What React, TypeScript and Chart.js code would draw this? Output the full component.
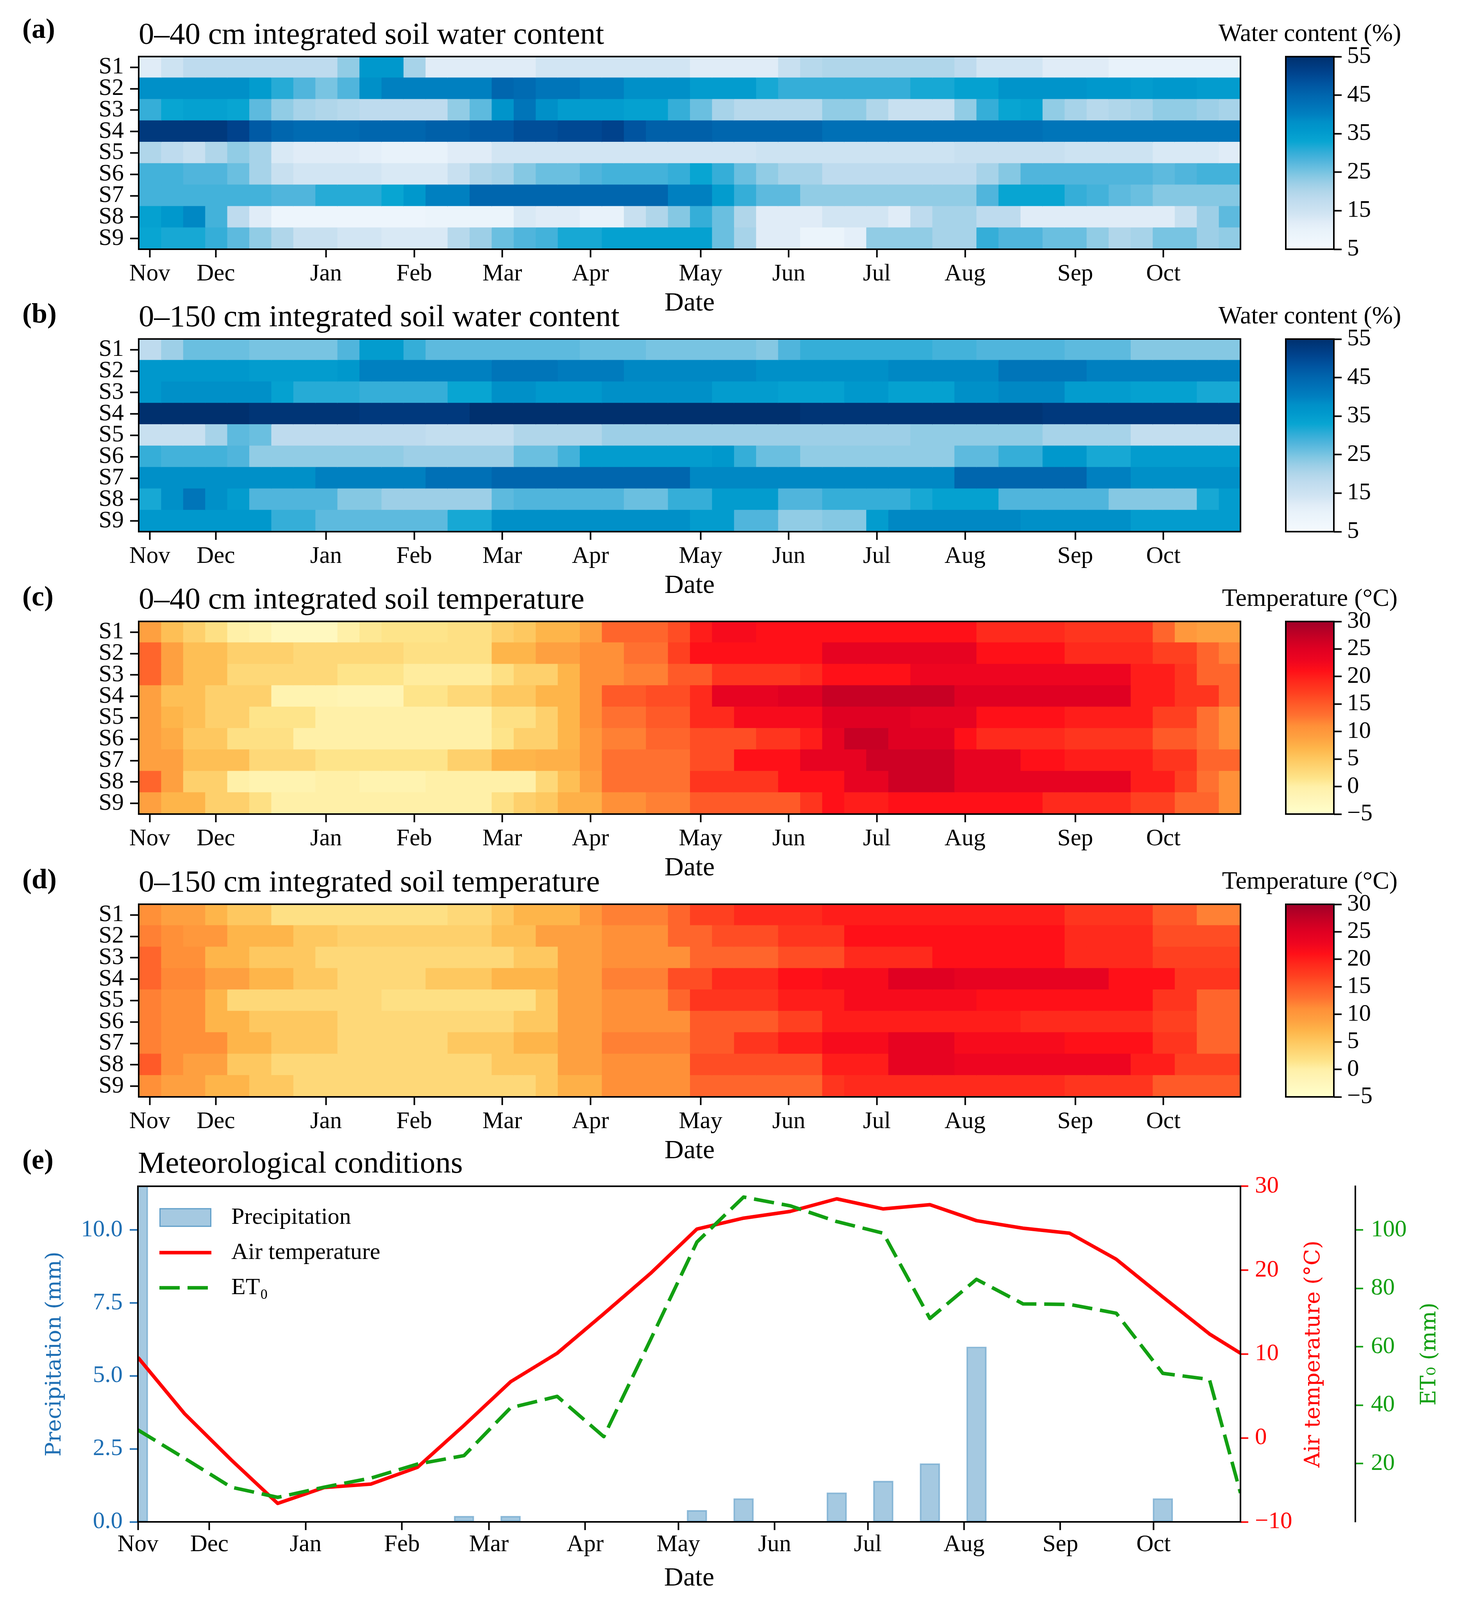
import { useEffect, useRef } from "react";
import { Chart, registerables } from "chart.js";

Chart.register(...registerables);

const SERIF = '"Liberation Serif", "Times New Roman", serif';
const LABEL_SERIF = '"DejaVu Serif", serif';
Chart.defaults.font.family = SERIF;
Chart.defaults.color = "#000";

// ---- categories / ticks ----
const sites = ["S1", "S2", "S3", "S4", "S5", "S6", "S7", "S8", "S9"];
const months = ["Nov", "Dec", "Jan", "Feb", "Mar", "Apr", "May", "Jun", "Jul", "Aug", "Sep", "Oct"];
const weekTicks = [0, 3, 8, 12, 16, 20, 25, 29, 33, 37, 42, 46]; // weekly columns
const dayTicks = [0, 23, 54, 85, 113, 144, 174, 205, 235, 266, 297, 327]; // days since 8 Nov
const waterTicks = [5, 15, 25, 35, 45, 55];
const tempTicks = [-5, 0, 5, 10, 15, 20, 25, 30];
const precipTicks = [0, 2.5, 5, 7.5, 10];
const airTicks = [-10, 0, 10, 20, 30];
const et0Ticks = [20, 40, 60, 80, 100];

// ---- (a) 0-40 cm soil water content (%), rows S1..S9, 50 weekly columns ----
const swc40 = [
  [12,15,18,18,18,18,18,18,18,23,36,36,21,12,12,12,12,12,14,14,14,14,14,14,14,12,12,12,12,16,19,20,20,20,20,20,20,18,14,14,14,12,12,12,10,10,10,10,10,10],
  [38,38,38,38,38,35,31,28,25,28,38,40,40,40,40,40,45,44,42,42,40,40,38,38,38,35,35,35,32,30,30,30,30,30,30,32,32,34,34,37,37,37,37,36,36,35,36,36,35,35],
  [30,33,34,34,33,27,23,21,20,19,18,18,18,18,23,27,37,42,38,35,35,35,34,34,30,26,21,19,19,19,19,23,23,20,16,16,16,23,30,33,34,23,21,19,20,21,23,23,22,21],
  [53,53,53,53,51,47,45,44,44,44,45,45,45,46,46,47,47,49,49,50,50,51,48,46,46,46,45,45,45,45,45,43,43,43,43,43,43,43,43,43,43,42,42,42,42,42,42,42,42,42],
  [20,18,16,20,23,21,13,12,12,12,11,10,10,10,12,12,14,14,14,14,14,14,14,14,14,14,14,14,15,15,15,15,15,15,15,15,15,16,16,16,16,16,15,15,15,15,13,13,13,12],
  [29,29,28,28,26,21,16,14,14,14,14,13,13,13,16,20,21,24,26,26,28,29,29,29,30,33,30,26,23,21,21,18,18,18,18,18,18,18,21,24,28,28,28,28,28,28,27,28,29,29],
  [29,29,29,29,29,29,28,28,31,31,31,33,36,40,40,45,45,45,45,45,45,45,45,45,40,40,35,30,27,27,23,23,23,23,23,23,23,23,28,33,33,33,30,29,27,26,24,24,24,24],
  [34,36,39,29,18,12,8,8,8,8,8,8,8,9,9,9,9,13,12,12,10,10,16,20,24,30,26,20,12,12,12,14,14,14,12,18,21,21,18,18,12,12,12,12,12,12,12,16,22,27],
  [33,32,32,30,27,23,20,16,16,14,14,13,13,13,19,22,26,28,29,32,32,34,34,34,34,34,26,21,12,12,9,9,11,23,23,23,21,21,30,28,28,26,26,23,20,21,25,25,22,23],
];

// ---- (b) 0-150 cm soil water content (%) ----
const swc150 = [
  [18,22,26,26,26,25,25,25,25,28,35,35,30,27,27,27,27,27,27,27,26,26,26,25,25,25,25,25,24,28,30,30,30,30,30,30,29,29,28,28,28,28,27,27,27,24,24,24,24,24],
  [36,36,36,36,36,35,35,35,35,36,40,40,40,40,40,40,42,42,42,41,41,41,39,39,39,39,39,39,38,38,38,38,38,38,39,39,39,39,39,42,42,42,42,40,40,40,40,40,40,40],
  [36,38,38,38,38,38,34,31,31,31,30,30,30,30,33,33,38,38,36,36,36,38,38,38,38,38,35,35,35,34,34,34,36,36,34,34,34,38,38,39,39,39,35,35,35,34,34,34,32,32],
  [55,55,55,55,55,54,54,54,54,54,53,53,53,53,53,55,55,55,55,55,55,55,55,55,55,55,55,55,55,55,54,54,54,54,54,54,54,54,54,54,54,53,53,53,53,53,53,53,53,53],
  [16,16,16,21,27,26,18,18,18,18,18,18,18,17,17,17,17,20,20,20,20,22,22,22,22,22,22,22,22,22,22,22,22,22,22,23,23,23,23,23,23,21,21,21,21,17,17,17,17,17],
  [30,29,29,29,28,23,23,23,23,23,23,23,22,22,22,22,22,26,26,29,35,35,35,35,35,35,36,30,26,26,23,23,23,23,23,23,23,27,27,30,30,36,36,32,32,35,35,35,35,35],
  [38,38,38,38,38,38,38,38,40,40,40,40,40,43,43,43,45,45,45,45,45,45,45,45,45,39,39,39,39,39,39,39,39,39,39,39,39,45,45,45,45,45,45,40,40,38,38,38,38,38],
  [32,38,42,38,35,28,28,28,28,24,24,22,22,22,22,22,27,28,28,28,28,28,26,26,30,30,35,35,35,28,28,30,30,30,30,32,34,34,34,28,28,28,28,28,24,24,24,24,32,35],
  [36,36,36,36,36,36,30,30,27,27,27,27,27,27,32,32,38,38,38,38,38,38,38,38,38,35,35,28,28,23,23,24,24,35,39,39,39,39,39,39,38,38,38,38,38,35,35,35,35,35],
];

// ---- (c) 0-40 cm soil temperature (degC) ----
const temp40 = [
  [9,6,4,2,0,-1,-3,-3,-3,0,1,1.5,1.5,1.5,2,2,4,5,7,7,9,14,14,14,16,20,22,22,21,21,21,21,21,21,21,21,21,21,19,19,19,19,18,18,18,18,14,10,9,9],
  [14,9,6,6,4,4,4,3,3,3,3,3,2,2,2,2,7,7,9,9,11,11,13,13,17,21,21,21,21,21,21,24,24,24,24,24,24,24,21,21,21,21,19,19,19,19,17,17,14,12],
  [14,9,6,6,3,3,3,3,3,1.5,1.5,1.5,0.5,0.5,0.5,0.5,2,4,4,7,11,11,12,12,15,15,18,18,18,18,19,21,21,21,21,23,23,23,23,23,23,23,23,23,23,20,20,18,14,14],
  [9,6,6,4,4,4,-1,-1,-1,-1.5,-1.5,-1.5,1.5,1.5,3,3,5,5,7,7,11,15,15,16,16,19,24,24,24,25,25,27,27,27,27,27,27,25,25,25,25,25,25,25,25,20,20,18,18,14],
  [9,7,6,4,4,1.5,1.5,1.5,0,0,0,0,0,0,0,0,2,2,4,7,11,13,13,15,15,19,19,22,22,22,22,25,25,25,25,24,24,24,21,21,21,21,20,20,20,20,17,17,13,11],
  [9,8,5,5,2,2,2,0,0,0,0,0,0,0,0,0,1.5,4,4,7,10,12,12,14,14,16,16,16,18,18,20,24,27,27,25,25,25,21,19,19,19,19,18,18,18,18,15,15,13,11],
  [9,9,6,6,6,3,3,3,1.5,1.5,1.5,1.5,1.5,1.5,4,4,7,7,7.5,7.5,10,13,13,13,13,16,16,21,21,21,24,24,24,26.5,26.5,26.5,26.5,24,24,24,21,21,20,20,20,20,18,18,14,14],
  [14,9,4,4,0,-1,-1,-1,0,0,-1,-1,-1,0,0,0,0,0,3,6,9,13,13,13,13,18,18,18,18,21,21,21,24,24,26.5,26.5,26.5,24,24,24,24,24,24,24,24,20,20,17,13,11],
  [9,7,7,4,4,2,0,0,0,0,0,0,0,0,0,0,2,4,5,7.5,7.5,11,11,12,12,15,15,15,15,15,18,21,20,20,21,21,21,21,21,21,21,19,19,19,19,17,17,14,14,11],
];

// ---- (d) 0-150 cm soil temperature (degC) ----
const temp150 = [
  [11,9,9,7,5,5,2,2,2,2,2,2,2,2,3,3,5,7,7,7,10,12,12,12,14,17,17,19,19,19,19,20,20,20,20,20,20,20,20,20,20,20,18,18,18,18,15,15,12,12],
  [12,11,10,10,7,7,7,5,5,4,4,4,4,4,4,4,6,6,9,9,9,11,11,11,14,14,16,16,16,18,18,18,21,21,21,21,21,21,21,21,21,21,19,19,19,19,16,16,16,16],
  [14,11,11,7,7,5,5,5,3,3,3,3,3,3,3,3,3,5,5,9,9,11,11,11,11,14,14,14,14,16,16,16,19,19,19,19,21,21,21,21,21,21,19,19,19,19,17,17,17,17],
  [14,11.5,11.5,9,9,7,7,5,5,3,3,3,3,5,5,5,7,7,7,9,9,12,12,12,16,16,19,19,19,21,21,22,22,22,25,25,25,24,24,24,24,24,24,24,21,21,21,18,18,18],
  [12,11,11,7,3,3,3,3,3,3,3,2,2,2,2,2,2,2,5,9,9,11,11,11,14,18,18,18,18,20,20,20,22,22,22,22,22,22,21,21,21,21,21,21,21,21,18,18,14,14],
  [12,11,11,7,7,5,5,5,5,3,3,3,3,3,3,3,3,5,5,9,9,11,11,11,11,15,15,15,15,17,17,20,20,20,20,20,20,20,20,20,19,19,19,19,19,19,17,17,14,14],
  [12,11,11,11,7,7,5,5,5,3,3,3,3,3,5,5,5,7,7,9,9,12,12,12,12,15,15,18,18,20,20,22,22,22,24,24,24,22,22,22,22,22,21,21,21,21,18,18,14,14],
  [15,11,9,9,5,5,3,3,3,3,3,3,3,3,3,3,5,5,5,9,9,11,11,11,11,16,16,16,16,16,16,20,20,20,24,24,24,23,23,23,23,23,23,23,23,20,20,17,17,17],
  [11,9,9,7,7,5,5,3,3,3,3,3,3,3,3,3,3,3,5,7.5,7.5,11,11,11,11,14,14,14,14,14,14,18,19,19,19,19,19,19,19,19,19,19,18,18,18,18,15,15,15,15],
];

// ---- (e) meteorological conditions, 15-day periods ----
const periodDay = [0,15,30,45,60,75,90,105,120,135,150,165,180,195,210,225,240,255,270,285,300,315,330,345,355];
const precipitation = [12.5,0,0,0,0,0,0,0.2,0.2,0,0,0,0.4,0.8,0,1.0,1.4,2.0,6.0,0,0,0,0.8,0,0];
const airTemperature = [9.6,2.9,-2.6,-7.8,-5.9,-5.5,-3.5,1.5,6.7,10.1,14.8,19.6,24.9,26.2,27.0,28.5,27.3,27.8,25.9,25.0,24.4,21.3,16.8,12.4,10.1];
const et0 = [31.5,21.8,11.9,8.4,11.9,15.0,19.8,22.7,39.1,43.0,29.2,62.3,95.9,111.3,108.3,102.9,98.9,69.7,83.1,74.7,74.5,71.5,50.9,48.8,9.9];

// ---- colour maps ----
type Stop = [number, string];
const waterStops: Stop[] = [
  [5, "#f5fafe"], [10, "#e8f2fa"], [12, "#e0ecf7"], [14, "#d2e5f3"], [16, "#c8e0f0"], [18, "#bedbee"],
  [20, "#b0d6ea"], [22, "#9dcfe7"], [24, "#85c8e3"], [26, "#6abfe0"], [28, "#50b5dc"], [30, "#35aed8"],
  [33, "#08a5d2"], [36, "#0098cc"], [38, "#0090c8"], [40, "#0080c0"], [43, "#0070b6"], [45, "#0066ae"],
  [48, "#0054a0"], [51, "#00428c"], [55, "#00306e"],
];
const tempStops: Stop[] = [
  [-5, "#ffffcc"], [-2, "#fff5b8"], [0, "#fff0a8"], [1.5, "#fee48a"], [3, "#fed878"], [5, "#fec860"],
  [7, "#feb54a"], [9, "#fea040"], [11, "#ff9038"], [13, "#ff7030"], [15, "#ff5a28"], [17, "#ff4020"],
  [19, "#ff2a1c"], [21, "#ff1018"], [23, "#ee0520"], [25, "#e00022"], [27, "#c80024"], [30, "#a00028"],
];

const BLUE = "#1f6fb4";
const GREEN = "#12a012";

function rgb(hex: string) {
  const n = parseInt(hex.slice(1), 16);
  return [(n >> 16) & 255, (n >> 8) & 255, n & 255];
}

function colorAt(stops: Stop[], v: number) {
  if (v <= stops[0][0]) return stops[0][1];
  for (let i = 1; i < stops.length; i++) {
    if (v <= stops[i][0]) {
      const t = (v - stops[i - 1][0]) / (stops[i][0] - stops[i - 1][0]);
      const a = rgb(stops[i - 1][1]);
      const b = rgb(stops[i][1]);
      return `rgb(${a.map((x, k) => Math.round(x + (b[k] - x) * t)).join(",")})`;
    }
  }
  return stops[stops.length - 1][1];
}

const minus = (v: number) => (v < 0 ? "\u2212" + Math.abs(v) : String(v));

// black box round the plot area
const framePlugin = {
  id: "frame",
  afterDatasetsDraw(chart: any) {
    const { ctx, chartArea: a } = chart;
    ctx.save();
    ctx.strokeStyle = "#000";
    ctx.lineWidth = 4;
    ctx.strokeRect(a.left, a.top, a.right - a.left, a.bottom - a.top);
    ctx.restore();
  },
};

// colour bar body, painted from the colour map along the y scale
const gradientPlugin = {
  id: "cbGradient",
  beforeDatasetsDraw(chart: any, _args: any, opts: any) {
    const { ctx, chartArea: a, scales } = chart;
    const y = scales.y;
    const stops: Stop[] = opts.stops;
    const g = ctx.createLinearGradient(0, y.getPixelForValue(y.min), 0, y.getPixelForValue(y.max));
    stops.forEach(([v, c]) => g.addColorStop((v - y.min) / (y.max - y.min), c));
    ctx.save();
    ctx.fillStyle = g;
    ctx.fillRect(a.left, a.top, a.right - a.left, a.bottom - a.top);
    ctx.restore();
  },
};

// colour bar caption, centred over the bar (wider than the bar itself)
const cbLabelPlugin = {
  id: "cbLabel",
  afterDraw(chart: any, _args: any, opts: any) {
    const { ctx, chartArea: a } = chart;
    ctx.save();
    ctx.font = `64px ${SERIF}`;
    ctx.fillStyle = "#000";
    ctx.textAlign = "center";
    ctx.textBaseline = "alphabetic";
    ctx.fillText(opts.text, (a.left + a.right) / 2, a.top - 40);
    ctx.restore();
  },
};

const tickFont = { size: 61, lineHeight: 1 };
const outTicks = (color: string, len: number) => ({
  drawOnChartArea: false,
  offset: false,
  tickLength: len,
  tickWidth: 4,
  tickColor: color,
});

function Heatmap({ rows, title, plotTop, stops }: { rows: number[][]; title: string; plotTop: number; stops: Stop[] }) {
  const ref = useRef<HTMLCanvasElement>(null);
  useEffect(() => {
    if (!ref.current) return;
    const chart = new Chart(ref.current, {
      type: "bar",
      data: {
        labels: sites,
        datasets: rows[0].map((_, c) => ({
          data: rows.map(() => [c - 0.5, c + 0.5]),
          backgroundColor: rows.map((r) => colorAt(stops, r[c])),
          borderWidth: 0,
          inflateAmount: 1,
          grouped: false,
          barPercentage: 1,
          categoryPercentage: 1,
        })),
      },
      options: {
        indexAxis: "y",
        animation: false,
        responsive: false,
        devicePixelRatio: 1,
        events: [],
        layout: { padding: { left: 0, right: 25, top: 0, bottom: 0 } },
        plugins: {
          legend: { display: false },
          tooltip: { enabled: false },
          title: {
            display: true,
            text: title,
            align: "start",
            fullSize: false,
            color: "#000",
            font: { size: 79, weight: "normal", lineHeight: 1.2 },
            padding: { top: 44, bottom: 6 },
          },
        },
        scales: {
          x: {
            type: "linear",
            min: -0.5,
            max: 49.5,
            afterBuildTicks: (s: any) => { s.ticks = weekTicks.map((v) => ({ value: v })); },
            afterFit: (s: any) => { s.height = 182; },
            ticks: { callback: (_v: any, i: number) => months[i], font: { size: 61, lineHeight: 1.2 }, padding: 6, maxRotation: 0, autoSkip: false },
            grid: outTicks("#000", 21),
            border: { display: false },
            title: { display: true, text: "Date", color: "#000", font: { size: 68, lineHeight: 1 }, padding: { top: 0, bottom: 9 } },
          },
          y: {
            type: "category",
            offset: true,
            afterFit: (s: any) => { s.width = 355; },
            ticks: { font: tickFont, padding: 16, autoSkip: false },
            grid: outTicks("#000", 22),
            border: { display: false },
          },
        },
      } as any,
      plugins: [framePlugin],
    });
    return () => chart.destroy();
  }, []);
  return (
    <canvas
      ref={ref}
      width={3200}
      height={820}
      style={{ position: "absolute", left: 0, top: plotTop - 145, width: 3200, height: 820 }}
    />
  );
}

function ColorBar({ label, plotTop, stops, ticks }: { label: string; plotTop: number; stops: Stop[]; ticks: number[] }) {
  const ref = useRef<HTMLCanvasElement>(null);
  useEffect(() => {
    if (!ref.current) return;
    const chart = new Chart(ref.current, {
      type: "bar",
      data: { labels: [""], datasets: [] },
      options: {
        animation: false,
        responsive: false,
        devicePixelRatio: 1,
        events: [],
        layout: { padding: { left: 239, right: 98, top: 145, bottom: 182 } },
        plugins: {
          legend: { display: false },
          tooltip: { enabled: false },
          cbGradient: { stops },
          cbLabel: { text: label },
        },
        scales: {
          x: { display: false },
          y: {
            type: "linear",
            position: "right",
            min: ticks[0],
            max: ticks[ticks.length - 1],
            afterBuildTicks: (s: any) => { s.ticks = ticks.map((v) => ({ value: v })); },
            afterFit: (s: any) => { s.width = 140; },
            ticks: { font: tickFont, padding: 14, callback: (v: any) => minus(v) },
            grid: outTicks("#000", 20),
            border: { display: false },
          },
        },
      } as any,
      plugins: [gradientPlugin, framePlugin, cbLabelPlugin],
    });
    return () => chart.destroy();
  }, []);
  return (
    <canvas
      ref={ref}
      width={600}
      height={820}
      style={{ position: "absolute", left: 3052, top: plotTop - 145, width: 600, height: 820 }}
    />
  );
}

// legend drawn inside the plot, top left, from the dataset styles
const metLegendPlugin = {
  id: "metLegend",
  afterDraw(chart: any) {
    const { ctx, chartArea: a } = chart;
    const ds = chart.data.datasets;
    const x0 = a.left + 55;
    const x1 = a.left + 188;
    const tx = a.left + 239;
    const ys = [a.top + 80, a.top + 170, a.top + 260];
    ctx.save();
    ctx.fillStyle = ds[0].backgroundColor;
    ctx.fillRect(x0, ys[0] - 24, x1 - x0, 48);
    ctx.strokeStyle = ds[0].borderColor;
    ctx.lineWidth = 3;
    ctx.strokeRect(x0 + 1.5, ys[0] - 22.5, x1 - x0 - 3, 45);
    ctx.lineWidth = ds[1].borderWidth;
    ctx.strokeStyle = ds[1].borderColor;
    ctx.beginPath();
    ctx.moveTo(x0, ys[1]);
    ctx.lineTo(x1, ys[1]);
    ctx.stroke();
    ctx.strokeStyle = ds[2].borderColor;
    ctx.setLineDash(ds[2].borderDash);
    ctx.beginPath();
    ctx.moveTo(x0, ys[2]);
    ctx.lineTo(x1, ys[2]);
    ctx.stroke();
    ctx.setLineDash([]);
    ctx.fillStyle = "#000";
    ctx.font = `60px ${SERIF}`;
    ctx.textAlign = "left";
    ctx.textBaseline = "middle";
    ds.forEach((d: any, i: number) => ctx.fillText(d.label, tx, ys[i]));
    ctx.restore();
  },
};

// rotated (bottom-to-top) axis titles for all three y axes
const sideTitlesPlugin = {
  id: "sideTitles",
  afterDraw(chart: any, _args: any, opts: any) {
    const { ctx, chartArea: a } = chart;
    const cy = (a.top + a.bottom) / 2;
    ctx.save();
    ctx.font = `55px ${LABEL_SERIF}`;
    ctx.textAlign = "center";
    ctx.textBaseline = "middle";
    for (const t of opts.items) {
      const s = chart.scales[t.axis];
      ctx.save();
      ctx.translate(s.left + t.dx, cy);
      ctx.rotate(-Math.PI / 2);
      ctx.fillStyle = t.color;
      ctx.fillText(t.text, 0, 0);
      ctx.restore();
    }
    ctx.restore();
  },
};

function MetChart() {
  const ref = useRef<HTMLCanvasElement>(null);
  useEffect(() => {
    if (!ref.current) return;
    const chart = new Chart(ref.current, {
      type: "bar",
      data: {
        datasets: [
          {
            type: "bar",
            label: "Precipitation",
            data: periodDay.map((d, i) => ({ x: d, y: precipitation[i] })),
            yAxisID: "y",
            backgroundColor: "rgba(31,119,180,0.4)",
            borderColor: "rgba(31,119,180,0.5)",
            borderWidth: (c: any) => (c.raw && c.raw.y > 0 ? 3 : 0),
            borderSkipped: false,
            barThickness: 51,
            clip: 0,
            order: 3,
          },
          {
            type: "line",
            label: "Air temperature",
            data: periodDay.map((d, i) => ({ x: d, y: airTemperature[i] })),
            yAxisID: "y2",
            borderColor: "#ff0000",
            borderWidth: 9,
            borderJoinStyle: "round",
            pointRadius: 0,
            tension: 0,
            order: 2,
          },
          {
            type: "line",
            label: "ET\u2080",
            data: periodDay.map((d, i) => ({ x: d, y: et0[i] })),
            yAxisID: "y3",
            borderColor: GREEN,
            borderWidth: 9,
            borderDash: [52, 20],
            borderJoinStyle: "round",
            pointRadius: 0,
            tension: 0,
            order: 1,
          },
        ],
      } as any,
      options: {
        animation: false,
        responsive: false,
        devicePixelRatio: 1,
        events: [],
        layout: { padding: 0 },
        plugins: {
          legend: { display: false },
          tooltip: { enabled: false },
          title: {
            display: true,
            text: "Meteorological conditions",
            align: "start",
            fullSize: false,
            color: "#000",
            font: { size: 79, weight: "normal", lineHeight: 1.2 },
            padding: { top: 34, bottom: 8 },
          },
          sideTitles: {
            items: [
              { axis: "y", dx: 141, text: "Precipitation (mm)", color: BLUE },
              { axis: "y2", dx: 188, text: "Air temperature (\u00b0C)", color: "#ff0000" },
              { axis: "y3", dx: 191, text: "ET\u2080 (mm)", color: GREEN },
            ],
          },
        },
        scales: {
          x: {
            type: "linear",
            min: 0,
            max: 355,
            offset: false,
            afterBuildTicks: (s: any) => { s.ticks = dayTicks.map((v) => ({ value: v })); },
            afterFit: (s: any) => { s.height = 212; },
            ticks: { callback: (_v: any, i: number) => months[i], font: { size: 61, lineHeight: 1.2 }, padding: 1, maxRotation: 0, autoSkip: false },
            grid: outTicks("#000", 21),
            border: { display: false },
            title: { display: true, text: "Date", color: "#000", font: { size: 68, lineHeight: 1 }, padding: { top: 0, bottom: 33 } },
          },
          y: {
            type: "linear",
            position: "left",
            min: 0,
            max: 11.5,
            afterBuildTicks: (s: any) => { s.ticks = precipTicks.map((v) => ({ value: v })); },
            afterFit: (s: any) => { s.width = 353; },
            ticks: { color: BLUE, font: tickFont, padding: 18, callback: (v: any) => Number(v).toFixed(1) },
            grid: outTicks(BLUE, 21),
            border: { display: false },
          },
          y2: {
            type: "linear",
            position: "right",
            min: -10,
            max: 30,
            afterBuildTicks: (s: any) => { s.ticks = airTicks.map((v) => ({ value: v })); },
            afterFit: (s: any) => { s.width = 294; },
            ticks: { color: "#ff0000", font: tickFont, padding: 17, callback: (v: any) => minus(v) },
            grid: outTicks("#ff0000", 20),
            border: { display: false },
          },
          y3: {
            type: "linear",
            position: "right",
            min: 0,
            max: 115,
            afterBuildTicks: (s: any) => { s.ticks = et0Ticks.map((v) => ({ value: v })); },
            afterFit: (s: any) => { s.width = 273; },
            ticks: { color: GREEN, font: tickFont, padding: 20 },
            grid: outTicks(GREEN, 20),
            border: { display: true, color: "#000", width: 4 },
          },
        },
      } as any,
      plugins: [framePlugin, metLegendPlugin, sideTitlesPlugin],
    });
    return () => chart.destroy();
  }, []);
  return (
    <canvas
      ref={ref}
      width={3742}
      height={1208}
      style={{ position: "absolute", left: 0, top: 2900, width: 3742, height: 1208 }}
    />
  );
}

const panelLabels = ["(a)", "(b)", "(c)", "(d)", "(e)"];
const panelLabelY = [73, 802, 1526, 2250, 2968];
const heatTops = [145, 868, 1591, 2315];

export default function App() {
  return (
    <div style={{ position: "absolute", left: 0, top: 0, width: 3742, height: 4108, background: "#fff", overflow: "hidden" }}>
      <Heatmap rows={swc40} title="0–40 cm integrated soil water content" plotTop={heatTops[0]} stops={waterStops} />
      <Heatmap rows={swc150} title="0–150 cm integrated soil water content" plotTop={heatTops[1]} stops={waterStops} />
      <Heatmap rows={temp40} title="0–40 cm integrated soil temperature" plotTop={heatTops[2]} stops={tempStops} />
      <Heatmap rows={temp150} title="0–150 cm integrated soil temperature" plotTop={heatTops[3]} stops={tempStops} />
      <ColorBar label="Water content (%)" plotTop={heatTops[0]} stops={waterStops} ticks={waterTicks} />
      <ColorBar label="Water content (%)" plotTop={heatTops[1]} stops={waterStops} ticks={waterTicks} />
      <ColorBar label="Temperature (°C)" plotTop={heatTops[2]} stops={tempStops} ticks={tempTicks} />
      <ColorBar label="Temperature (°C)" plotTop={heatTops[3]} stops={tempStops} ticks={tempTicks} />
      <MetChart />
      {panelLabels.map((t, i) => (
        <div
          key={t}
          style={{
            position: "absolute",
            left: 57,
            top: panelLabelY[i] - 36,
            fontFamily: SERIF,
            fontWeight: "bold",
            fontSize: 72,
            lineHeight: "72px",
            color: "#000",
          }}
        >
          {t}
        </div>
      ))}
    </div>
  );
}
